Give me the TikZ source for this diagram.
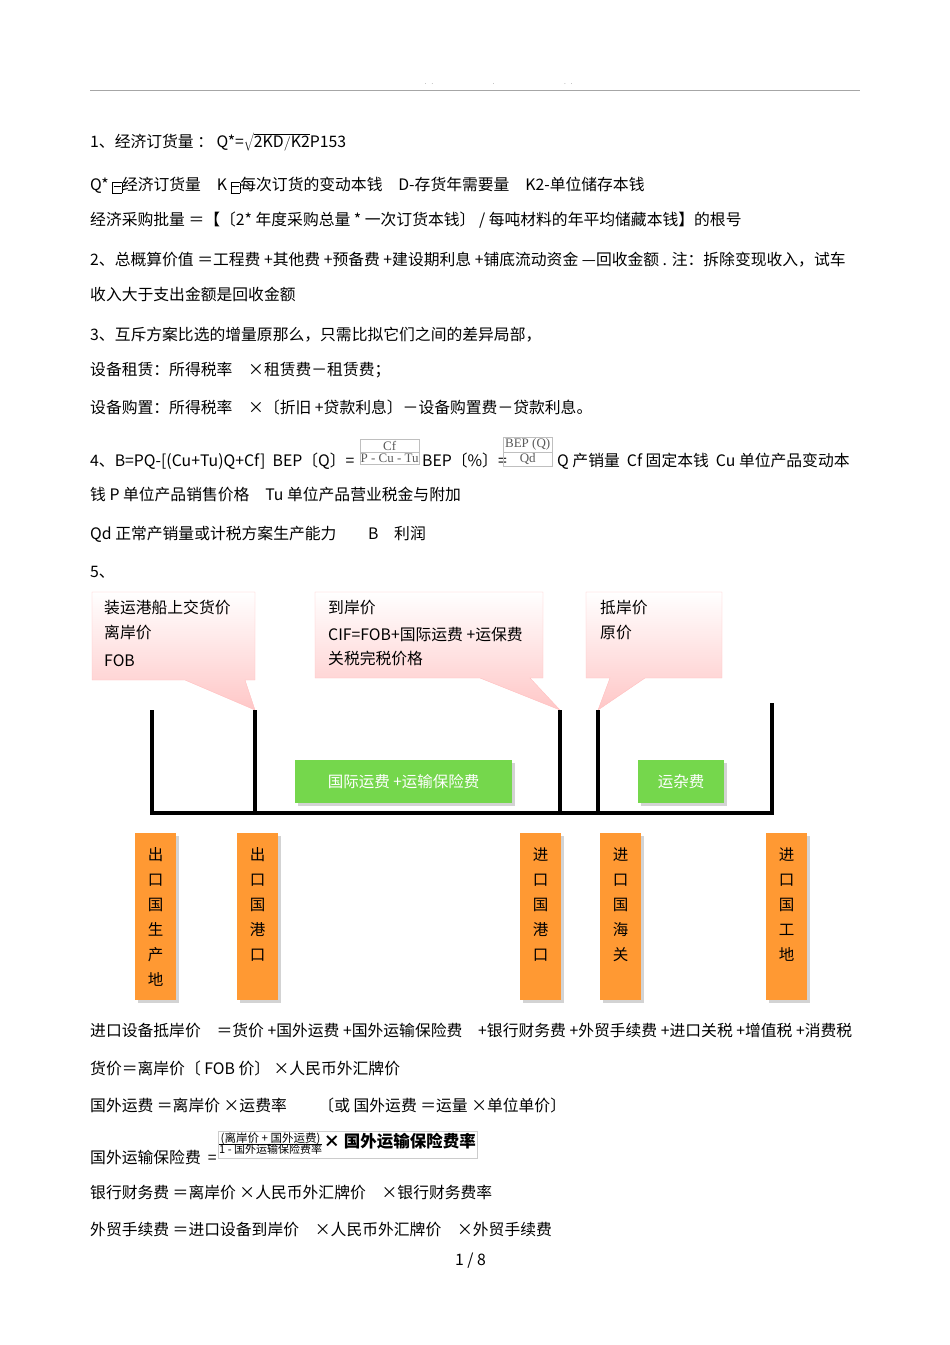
\documentclass[tikz,border=0pt]{standalone}
\usepackage{fontspec}
\setmainfont{Noto Sans CJK SC}
\newfontfamily\frserif{Liberation Serif}
\usetikzlibrary{shadows}
\begin{document}
\begin{tikzpicture}[x=1pt,y=-1pt,
 t/.style={anchor=base west,inner sep=0pt,font=\fontsize{15.8}{16}\selectfont},
 call/.style={draw=red!25,top color=white,bottom color=red!22},
 grn/.style={fill=green!55!olive!70,draw=none,drop shadow={opacity=.35},text=white,font=\fontsize{15.5}{16}\selectfont},
 org/.style={fill=orange!80,draw=none,drop shadow={opacity=.35},minimum width=41,minimum height=167,align=center,font=\fontsize{15.5}{25}\selectfont,anchor=north west,inner sep=0pt},
 post/.style={line width=3.5pt},
 fr/.style={draw=gray!50,inner sep=1.5pt,text=gray!70!black,font=\frserif\fontsize{13}{14}\selectfont}]
\useasboundingbox (0,0) rectangle (950,1345);
\draw[gray!70] (90,90) -- (860,90);
\node[t] at (425,84) {\tiny .\quad .\hspace{60pt}.\hspace{70pt}.\quad .};
\node[t] (l1) at (90,147) {1、经济订货量 ： Q*=$\sqrt{\mathrm{2KD/K2}}$P153};
\node[t] (l2) at (90,190) {Q* \fbox{\kern-2pt\rule[3pt]{7pt}{1.2pt}\kern-2pt}经济订货量\quad K \fbox{\kern-2pt\rule[3pt]{7pt}{1.2pt}\kern-2pt}每次订货的变动本钱\quad D-存货年需要量\quad K2-单位储存本钱};
\node[t] at (90,225) {经济采购批量 ＝【〔2* 年度采购总量 * 一次订货本钱〕 / 每吨材料的年平均储藏本钱】的根号};
\node[t] at (90,265) {2、总概算价值 ＝工程费 +其他费 +预备费 +建设期利息 +铺底流动资金 —回收金额 . 注：拆除变现收入，试车};
\node[t] at (90,300) {收入大于支出金额是回收金额};
\node[t] at (90,340) {3、互斥方案比选的增量原那么，只需比拟它们之间的差异局部，};
\node[t] at (90,375) {设备租赁：所得税率\quad ×租赁费－租赁费；};
\node[t] at (90,413) {设备购置：所得税率\quad ×〔折旧 +贷款利息〕－设备购置费－贷款利息。};
\node[t] (l4) at (90,466) {4、B=PQ-[(Cu+Tu)Q+Cf]\ \ BEP〔Q〕=};
\node[fr,anchor=south west] (f1a) at (360,452) {\makebox[56pt]{Cf}};
\node[fr,anchor=north west] (f1b) at (360,452) {\makebox[56pt]{P - Cu - Tu}};
\node[t] at (422,466) {BEP〔\%〕=};
\node[fr,anchor=south west] (f2a) at (503,452) {\makebox[46pt]{BEP (Q)}};
\node[fr,anchor=north west] (f2b) at (503,452) {\makebox[46pt]{Qd}};
\node[t] at (557,466) {Q 产销量\ \ Cf 固定本钱\ \ Cu 单位产品变动本};
\node[t] at (90,500) {钱 P 单位产品销售价格\quad Tu 单位产品营业税金与附加};
\node[t] at (90,539) {Qd 正常产销量或计税方案生产能力\qquad B\quad 利润};
\node[t] at (90,577) {5、};
% callouts
\draw[call] (92,592) -- (255,592) -- (255,680) -- (245,680) -- (255,710) -- (185,680) -- (92,680) -- cycle;
\draw[call] (315,592) -- (543,592) -- (543,678) -- (530,678) -- (560,710) -- (480,678) -- (315,678) -- cycle;
\draw[call] (586,592) -- (722,592) -- (722,678) -- (645,678) -- (598,710) -- (610,678) -- (586,678) -- cycle;
\node[t,align=left] at (104,613) {装运港船上交货价};
\node[t] at (104,638) {离岸价};
\node[t] at (104,666) {FOB};
\node[t] at (328,613) {到岸价};
\node[t] at (328,640) {CIF=FOB+国际运费 +运保费};
\node[t] at (328,664) {关税完税价格};
\node[t] at (600,613) {抵岸价};
\node[t] at (600,638) {原价};
% frame
\coordinate (h1) at (152,813); \coordinate (h2) at (772,813);
\draw[post] (152,710) -- (h1) -- (h2) -- (772,703);
\foreach \x in {255,560,598} \draw[post] (\x,710) -- (\x,813);
\node[grn,minimum width=217,minimum height=43,anchor=north west,inner sep=0pt] (g1) at (295,760) {国际运费 +运输保险费};
\node[grn,minimum width=86,minimum height=43,anchor=north west,inner sep=0pt] (g2) at (638,760) {运杂费};
\node[org] (o1) at (135,833) {出\\口\\国\\生\\产\\地};
\node[org] (o2) at (237,833) {出\\口\\国\\港\\口\\\phantom{口}};
\node[org] (o3) at (520,833) {进\\口\\国\\港\\口\\\phantom{口}};
\node[org] (o4) at (600,833) {进\\口\\国\\海\\关\\\phantom{口}};
\node[org] (o5) at (766,833) {进\\口\\国\\工\\地\\\phantom{口}};
\node[t] at (90,1036) {进口设备抵岸价\quad ＝货价 +国外运费 +国外运输保险费\quad +银行财务费 +外贸手续费 +进口关税 +增值税 +消费税};
\node[t] at (90,1074) {货价＝离岸价〔 FOB 价〕 ×人民币外汇牌价};
\node[t] at (90,1111) {国外运费 ＝离岸价 ×运费率\qquad 〔或 国外运费 ＝运量 ×单位单价〕};
\node[t] at (90,1163) {国外运输保险费\ \ =};
\node[draw=gray!40,anchor=west,inner sep=1pt] (ins) at (218,1145) {\begin{tabular}{@{}c@{}}{\fontsize{11.5}{12}\selectfont (离岸价 + 国外运费)}\\[-2pt]\hline{\fontsize{11}{12}\selectfont 1 - 国外运输保险费率}\end{tabular}\,{\fontsize{16.5}{17}\selectfont\bfseries × 国外运输保险费率}};
\node[t] at (90,1198) {银行财务费 ＝离岸价 ×人民币外汇牌价\quad ×银行财务费率};
\node[t] at (90,1235) {外贸手续费 ＝进口设备到岸价\quad ×人民币外汇牌价\quad ×外贸手续费};
\node[t] at (455,1265) {1 / 8};
\end{tikzpicture}
\end{document}
